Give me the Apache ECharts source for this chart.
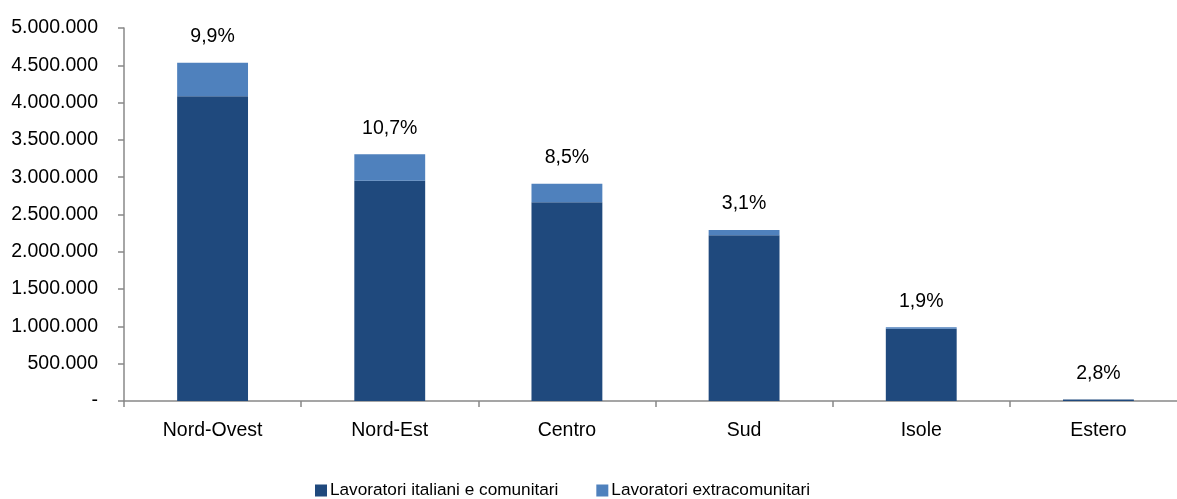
<!DOCTYPE html>
<html>
<head>
<meta charset="utf-8">
<script src="https://cdn.jsdelivr.net/npm/echarts@6/dist/echarts.min.js"></script>
<style>
html,body{margin:0;padding:0;background:#fff;overflow:hidden;width:1177px;height:499px;}
#chart{width:1187px;height:499px;}
</style>
</head>
<body>
<div id="chart"></div>
<script>
const categories = ['Nord-Ovest', 'Nord-Est', 'Centro', 'Sud', 'Isole', 'Estero'];
const italianiComunitari = [4086000, 2953000, 2665000, 2221000, 969000, 19400];
const extracomunitari = [449000, 354000, 248000, 71000, 19000, 560];
const percentLabels = ['9,9%', '10,7%', '8,5%', '3,1%', '1,9%', '2,8%'];
const seriesNames = ['Lavoratori italiani e comunitari', 'Lavoratori extracomunitari'];

const FONT = 'Liberation Sans, Arial, sans-serif';
const chart = echarts.init(document.getElementById('chart'));

function fmt(v) {
  if (v === 0) return '-';
  return String(v).replace(/\B(?=(\d{3})+(?!\d))/g, '.');
}

chart.setOption({
  animation: false,
  grid: { left: 124, top: 28, height: 373, right: 0 },
  legend: {
    top: 477,
    left: 310,
    itemWidth: 12,
    itemHeight: 12,
    itemGap: 38,
    icon: 'rect',
    textStyle: { fontFamily: FONT, fontSize: 17.2, color: '#000', padding: [0, 0, 0, -2] },
    data: seriesNames
  },
  xAxis: {
    type: 'category',
    data: categories,
    axisLine: { lineStyle: { color: '#888', width: 1.5 } },
    axisTick: { show: true, length: 6, alignWithLabel: false, lineStyle: { color: '#888', width: 1.5 } },
    axisLabel: { fontFamily: FONT, fontSize: 19.5, color: '#000', margin: 20 }
  },
  yAxis: {
    type: 'value',
    min: 0,
    max: 5000000,
    interval: 500000,
    splitLine: { show: false },
    axisLine: { show: true, lineStyle: { color: '#888', width: 1.5 } },
    axisTick: { show: true, length: 6, lineStyle: { color: '#888', width: 1.5 } },
    axisLabel: { fontFamily: FONT, fontSize: 19.5, color: '#000', margin: 26, formatter: fmt }
  },
  series: [
    {
      name: seriesNames[0],
      type: 'bar',
      stack: 'tot',
      barWidth: '40%',
      itemStyle: { color: '#1F497D' },
      data: italianiComunitari
    },
    {
      name: seriesNames[1],
      type: 'bar',
      stack: 'tot',
      barWidth: '40%',
      itemStyle: { color: '#4F81BD' },
      label: {
        show: true,
        position: 'top',
        distance: 16,
        fontFamily: FONT,
        fontSize: 19.5,
        color: '#000',
        formatter: p => percentLabels[p.dataIndex]
      },
      data: extracomunitari
    }
  ]
});
</script>
</body>
</html>
